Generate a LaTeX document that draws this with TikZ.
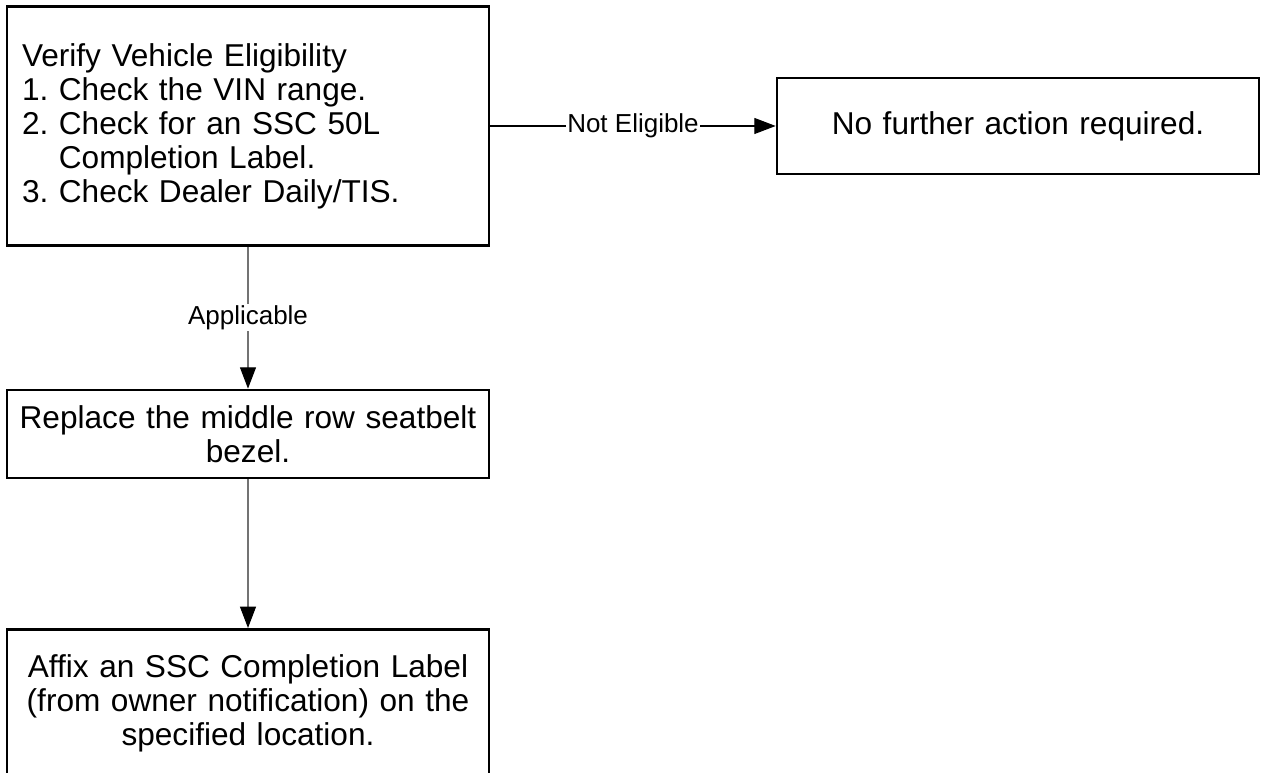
\documentclass[tikz,border=0pt]{standalone}
\usepackage{fontspec}
\setmainfont{Liberation Sans}
\usetikzlibrary{arrows.meta}
\frenchspacing

\newcommand{\boxfont}{\fontsize{23.7pt}{25.5pt}\selectfont}
\newcommand{\tagfont}{\fontsize{19.5pt}{22pt}\selectfont}

\begin{document}
\begin{tikzpicture}[x=0.75pt, y=0.75pt,
        stepbox/.style={draw, line width=2pt, rectangle, minimum width=361.5pt,
            text width=345pt, inner xsep=8.25pt, font=\boxfont, align=center},
        link/.style={draw=black, line width=0.8pt, -{Triangle[length=16pt, width=12pt, color=black]}},
        tag/.style={fill=white, inner sep=1pt, font=\tagfont}]
            \useasboundingbox (0,0) rectangle (1261,773);
            \clip (0,0) rectangle (1261,773);
            \node[stepbox, align=left, text width=339pt, inner xsep=11.25pt,
                  minimum height=179.25pt] (s_0) at (248,647)
                  {Verify Vehicle Eligibility\\
                   1. Check the VIN range.\\
                   2. Check for an SSC 50L\\
                   \phantom{2. }Completion Label.\\
                   3. Check Dealer Daily/TIS.};
            \node[stepbox, minimum width=361pt, minimum height=72pt] (s_1) at (1018,647)
                  {No further action required.};
            \node[stepbox, minimum height=66pt] (s_2) at (248,339)
                  {Replace the middle row seatbelt\\ bezel.};
            \node[stepbox, anchor=north, inner ysep=18.7pt, text depth=130pt] (s_3) at (248,145)
                  {Affix an SSC Completion Label\\ (from owner notification) on the\\ specified location.};
            \path[link]
            (s_0) edge node[tag] {Not Eligible} (s_1);
            \path[link, draw=black!55]
            (s_0) edge node[tag] {Applicable} (s_2)
            (s_2) edge (s_3); % last box runs off the page
        \end{tikzpicture}
\end{document}
